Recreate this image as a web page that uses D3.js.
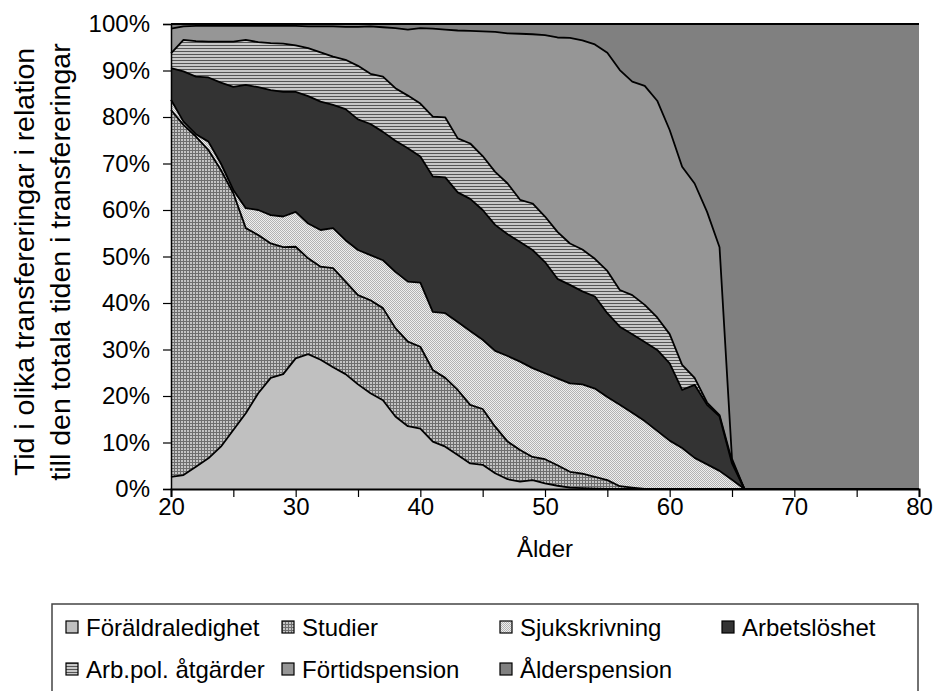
<!DOCTYPE html>
<html><head><meta charset="utf-8">
<script src="https://cdn.jsdelivr.net/npm/d3@7"></script>
<style>
html,body{margin:0;padding:0;background:#fff;}
svg{display:block;font-family:"Liberation Sans",Arial,sans-serif;}
</style></head><body>
<svg id="chart" width="936" height="691"></svg>
<script>
// Ages (categories)
const ages = [20,21,22,23,24,25,26,27,28,29,30,31,32,33,34,35,36,37,38,39,40,41,42,43,44,45,46,47,48,49,50,51,52,53,54,55,56,57,58,59,60,61,62,63,64,65,66,67,68,69,70,71,72,73,74,75,76,77,78,79,80];
// Share (%) of time in each transfer type, by age
const foraldraledighet = [2.6,3.0,4.8,6.6,9.1,12.7,16.3,20.6,23.9,24.7, 28.1,29.0,27.8,26.2,24.7,22.5,20.6,19.1,15.6,13.5, 13.0,10.2,9.1,7.3,5.5,5.2,3.4,2.1,1.6,1.9, 1.2,0.7,0.3,0.2,0.1,0,0,0,0,0, 0,0,0,0,0,0,0,0,0,0, 0,0,0,0,0,0,0,0,0,0, 0];
const studier = [78.9,75.3,71.0,66.3,59.5,50.9,39.8,34.0,28.9,27.3, 24.0,20.6,20.0,21.3,19.9,19.2,20.0,19.8,19.0,18.2, 17.6,15.4,14.8,14.0,12.6,12.0,10.0,8.1,6.8,5.0, 5.2,4.4,3.4,3.1,2.5,1.9,0.6,0.3,0,0, 0,0,0,0,0,0,0,0,0,0, 0,0,0,0,0,0,0,0,0,0, 0];
const sjukskrivning = [2.2,0.7,0.5,1.8,1.4,0.7,4.3,5.4,6.1,6.6, 7.5,7.5,7.9,8.6,8.9,9.7,9.7,10.3,12.1,12.9, 13.8,12.5,13.9,14.6,15.9,14.9,16.3,18.4,19.0,19.1, 18.5,18.7,19.0,19.2,19.0,17.9,17.5,16.1,14.6,12.5, 10.4,8.8,6.7,5.3,3.9,2.0,0,0,0,0, 0,0,0,0,0,0,0,0,0,0, 0];
const arbetsloshet = [6.8,10.8,12.4,13.8,17.4,22.2,26.5,26.4,26.9,26.8, 25.8,27.4,27.6,26.5,28.2,28.1,28.2,27.6,28.2,28.7, 27.1,29.1,29.2,27.9,28.4,27.9,27.1,26.2,25.7,25.4, 23.9,21.4,21.2,20.0,19.8,18.0,16.8,16.9,17.0,17.4, 16.6,12.5,15.7,12.8,11.7,3.5,0,0,0,0, 0,0,0,0,0,0,0,0,0,0, 0];
const arbpol = [3.2,6.8,7.6,7.7,8.8,9.7,9.7,9.7,10.1,10.4, 10.0,10.3,10.6,10.4,10.6,11.5,10.8,11.9,11.3,11.3, 11.4,12.9,12.9,11.6,11.9,11.6,11.4,10.9,9.1,10.0, 9.8,10.1,8.9,9.0,8.1,9.1,7.9,8.4,8.0,7.0, 6.3,5.4,1.5,0.5,0.3,0.5,0,0,0,0, 0,0,0,0,0,0,0,0,0,0, 0];
const fortidspension = [5.3,2.9,3.3,3.4,3.4,3.4,3.0,3.5,3.7,3.8, 4.2,4.7,5.6,6.5,7.1,8.4,10.2,10.6,12.9,14.2, 16.2,18.9,18.9,23.2,24.2,26.8,30.1,32.3,35.7,36.4, 39.0,41.8,44.2,45.0,46.1,46.9,47.3,45.9,47.1,46.6, 43.9,42.6,41.8,41.0,36.1,0.5,0,0,0,0, 0,0,0,0,0,0,0,0,0,0, 0];
const alderspension = [1.0,0.5,0.4,0.4,0.4,0.4,0.4,0.4,0.4,0.4, 0.4,0.5,0.5,0.5,0.6,0.6,0.5,0.7,0.9,1.2, 0.9,1.0,1.2,1.4,1.5,1.6,1.7,2.0,2.1,2.2, 2.4,2.9,3.0,3.5,4.4,6.2,9.9,12.4,13.3,16.5, 22.8,30.7,34.3,40.4,48.0,93.5,100,100,100,100, 100,100,100,100,100,100,100,100,100,100, 100];

const seriesNames = ["Föräldraledighet","Studier","Sjukskrivning","Arbetslöshet","Arb.pol. åtgärder","Förtidspension","Ålderspension"];
const seriesValues = [foraldraledighet, studier, sjukskrivning, arbetsloshet, arbpol, fortidspension, alderspension];
const yTicks = [0,10,20,30,40,50,60,70,80,90,100];
const xTicks = [20,25,30,35,40,45,50,55,60,65,70,75,80];
const xTitle = "Ålder";
const yTitle = ["Tid i olika transfereringar i relation","till den totala tiden i transfereringar"];

const svg = d3.select("#chart");
const defs = svg.append("defs");

// patterns
const pStud = defs.append("pattern").attr("id","pStud").attr("patternUnits","userSpaceOnUse").attr("width",3).attr("height",3);
pStud.append("rect").attr("width",3).attr("height",3).attr("fill","#c4c4c4");
pStud.append("rect").attr("width",3).attr("height",1).attr("fill","#6e6e6e");
pStud.append("rect").attr("width",1).attr("height",3).attr("fill","#6e6e6e");

const pSjuk = defs.append("pattern").attr("id","pSjuk").attr("patternUnits","userSpaceOnUse").attr("width",2).attr("height",2);
pSjuk.append("rect").attr("width",2).attr("height",2).attr("fill","#eeeeee");
pSjuk.append("rect").attr("width",1).attr("height",1).attr("fill","#b2b2b2");
pSjuk.append("rect").attr("x",1).attr("y",1).attr("width",1).attr("height",1).attr("fill","#b2b2b2");

const pArb = defs.append("pattern").attr("id","pArb").attr("patternUnits","userSpaceOnUse").attr("width",4).attr("height",3);
pArb.append("rect").attr("width",4).attr("height",3).attr("fill","#c8c8c8");
pArb.append("rect").attr("width",4).attr("height",1).attr("fill","#555555");

const fills = ["#c0c0c0","url(#pStud)","url(#pSjuk)","#333333","url(#pArb)","#969696","#808080"];

const x = d3.scaleLinear().domain([20,80]).range([171,919]);
const y = d3.scaleLinear().domain([0,100]).range([489,24]);

const rows = ages.map((a,i)=>{const r={age:a}; seriesNames.forEach((n,k)=>r[n]=seriesValues[k][i]); return r;});
const stacked = d3.stack().keys(seriesNames)(rows);

const area = d3.area().x(d=>x(d.data.age)).y0(d=>y(d[0])).y1(d=>y(d[1]));
const topLine = d3.line().x(d=>x(d.data.age)).y(d=>y(d[1]));

const g = svg.append("g");
g.selectAll("path.area").data(stacked).join("path").attr("class","area")
  .attr("d",area).attr("fill",(d,i)=>fills[i]).attr("stroke","none");
g.selectAll("path.edge").data(stacked.slice().reverse()).join("path").attr("class","edge")
  .attr("d",topLine).attr("fill","none").attr("stroke","#000").attr("stroke-width",1.8).attr("stroke-linejoin","round");

// axes
const yAxis = svg.append("g").attr("transform","translate(171,0)")
  .call(d3.axisLeft(y).tickValues(yTicks).tickFormat(d=>d+"%").tickSize(8).tickPadding(13));
yAxis.select(".domain").attr("stroke","#000").attr("stroke-width",1.5);
yAxis.selectAll(".tick line").attr("stroke","#000").attr("stroke-width",1.2);
yAxis.selectAll("text").attr("font-size",24).attr("fill","#000").attr("font-family","Liberation Sans, Arial, sans-serif");

const xAxis = svg.append("g").attr("transform","translate(0,489)")
  .call(d3.axisBottom(x).tickValues(xTicks).tickFormat(d=>d%10===0?d:"").tickSize(8).tickPadding(1));
xAxis.select(".domain").attr("stroke","#000").attr("stroke-width",2);
xAxis.selectAll(".tick line").attr("stroke","#000").attr("stroke-width",1.2);
xAxis.selectAll("text").attr("font-size",24).attr("fill","#000").attr("font-family","Liberation Sans, Arial, sans-serif");

svg.append("text").attr("x",545).attr("y",557).attr("text-anchor","middle")
  .attr("font-size",24).text(xTitle);

yTitle.forEach((t,i)=>{
  svg.append("text").attr("transform",`translate(${[24,60][i]},262) rotate(-90)`)
    .attr("text-anchor","middle").attr("dominant-baseline","central")
    .attr("font-size",28.5).text(t);
});

// legend
const lg = svg.append("g");
lg.append("path").attr("d","M52,720 V604 H918 V720").attr("fill","none").attr("stroke","#444").attr("stroke-width",1.5);
const legPos = [[66,627],[282,627],[500,627],[722,627],[66,669],[282,669],[500,669]];
seriesNames.forEach((n,i)=>{
  const [lx,ly] = legPos[i];
  lg.append("rect").attr("x",lx).attr("y",ly-6).attr("width",12).attr("height",12)
    .attr("fill",fills[i]).attr("stroke","#000").attr("stroke-width",1.2);
  lg.append("text").attr("x",lx+20).attr("y",ly).attr("dominant-baseline","central")
    .attr("font-size",24).text(n);
});
</script>
</body></html>
